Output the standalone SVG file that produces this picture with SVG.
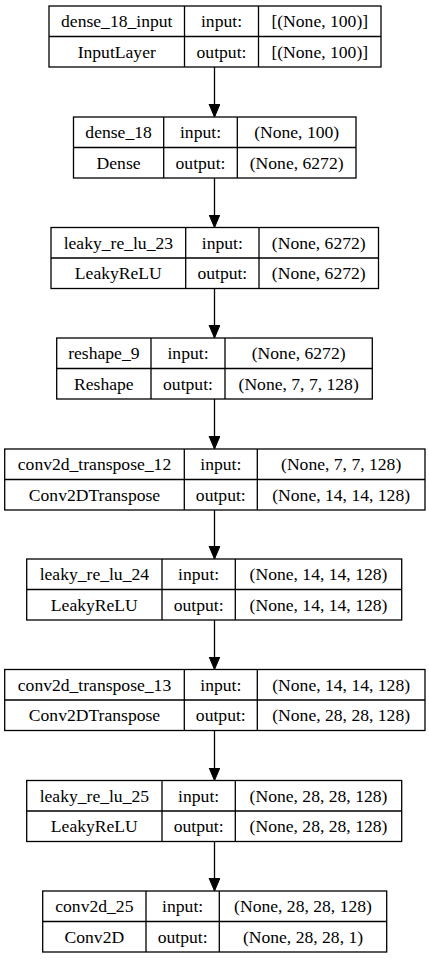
<svg xmlns="http://www.w3.org/2000/svg" width="429" height="959" viewBox="0 0 429 959" font-family="'Liberation Serif', 'Times New Roman', 'DejaVu Serif', serif">
<defs>
<style>
.box{fill:#fff;stroke:#000;stroke-width:1.3}
.ln{stroke:#000;stroke-width:1.3;fill:none}
text{font-family:'Liberation Serif','Times New Roman','DejaVu Serif',serif;font-size:17.6px;fill:#000;text-anchor:middle}
</style>
<marker id="ah" markerUnits="userSpaceOnUse" markerWidth="14" markerHeight="12" refX="13" refY="5.5" orient="auto">
<path d="M0,0 L13,5.5 L0,11 z" fill="#000" stroke="#000" stroke-width="1"/>
</marker>
</defs>
<rect width="429" height="959" fill="#fff"/>
<g id="connectors">
<line class="ln" x1="214.5" y1="67" x2="214.5" y2="117" marker-end="url(#ah)"/>
<line class="ln" x1="214.5" y1="178" x2="214.5" y2="227.5" marker-end="url(#ah)"/>
<line class="ln" x1="214.5" y1="288.5" x2="214.5" y2="338" marker-end="url(#ah)"/>
<line class="ln" x1="214.5" y1="399" x2="214.5" y2="449" marker-end="url(#ah)"/>
<line class="ln" x1="214.5" y1="510" x2="214.5" y2="559" marker-end="url(#ah)"/>
<line class="ln" x1="214.5" y1="620" x2="214.5" y2="669.5" marker-end="url(#ah)"/>
<line class="ln" x1="214.5" y1="730.5" x2="214.5" y2="780.5" marker-end="url(#ah)"/>
<line class="ln" x1="214.5" y1="841.5" x2="214.5" y2="891" marker-end="url(#ah)"/>
</g>
<g id="n1">
<rect class="box" x="49" y="6" width="332" height="61"/>
<path class="ln" d="M49,36.5H381M184.5,6V67M258.5,6V67"/>
<text x="116.75" y="27">dense_18_input</text><text x="116.75" y="57.5">InputLayer</text>
<text x="221.5" y="27">input:</text><text x="221.5" y="57.5">output:</text>
<text x="319.75" y="27">[(None, 100)]</text><text x="319.75" y="57.5">[(None, 100)]</text>
</g>
<g id="n2">
<rect class="box" x="73.5" y="117" width="282.5" height="61"/>
<path class="ln" d="M73.5,147.5H356M163.7,117V178M237.3,117V178"/>
<text x="118.6" y="138">dense_18</text><text x="118.6" y="168.5">Dense</text>
<text x="200.5" y="138">input:</text><text x="200.5" y="168.5">output:</text>
<text x="296.65" y="138">(None, 100)</text><text x="296.65" y="168.5">(None, 6272)</text>
</g>
<g id="n3">
<rect class="box" x="51" y="227.5" width="327.5" height="61"/>
<path class="ln" d="M51,258H378.5M185.7,227.5V288.5M259,227.5V288.5"/>
<text x="118.35" y="248.5">leaky_re_lu_23</text><text x="118.35" y="279">LeakyReLU</text>
<text x="222.35" y="248.5">input:</text><text x="222.35" y="279">output:</text>
<text x="318.75" y="248.5">(None, 6272)</text><text x="318.75" y="279">(None, 6272)</text>
</g>
<g id="n4">
<rect class="box" x="56.7" y="338" width="315.6" height="61"/>
<path class="ln" d="M56.7,368.5H372.3M151,338V399M225,338V399"/>
<text x="103.85" y="359">reshape_9</text><text x="103.85" y="389.5">Reshape</text>
<text x="188" y="359">input:</text><text x="188" y="389.5">output:</text>
<text x="298.65" y="359">(None, 6272)</text><text x="298.65" y="389.5">(None, 7, 7, 128)</text>
</g>
<g id="n5">
<rect class="box" x="4.7" y="449" width="420.3" height="61"/>
<path class="ln" d="M4.7,479.5H425M184.3,449V510M257.3,449V510"/>
<text x="94.5" y="470">conv2d_transpose_12</text><text x="94.5" y="500.5">Conv2DTranspose</text>
<text x="220.8" y="470">input:</text><text x="220.8" y="500.5">output:</text>
<text x="341.15" y="470">(None, 7, 7, 128)</text><text x="341.15" y="500.5">(None, 14, 14, 128)</text>
</g>
<g id="n6">
<rect class="box" x="26.7" y="559" width="375" height="61"/>
<path class="ln" d="M26.7,589.5H401.7M162,559V620M235.3,559V620"/>
<text x="94.35" y="580">leaky_re_lu_24</text><text x="94.35" y="610.5">LeakyReLU</text>
<text x="198.65" y="580">input:</text><text x="198.65" y="610.5">output:</text>
<text x="318.5" y="580">(None, 14, 14, 128)</text><text x="318.5" y="610.5">(None, 14, 14, 128)</text>
</g>
<g id="n7">
<rect class="box" x="4.7" y="669.5" width="420.3" height="61"/>
<path class="ln" d="M4.7,700H425M184.3,669.5V730.5M257.3,669.5V730.5"/>
<text x="94.5" y="690.5">conv2d_transpose_13</text><text x="94.5" y="721">Conv2DTranspose</text>
<text x="220.8" y="690.5">input:</text><text x="220.8" y="721">output:</text>
<text x="341.15" y="690.5">(None, 14, 14, 128)</text><text x="341.15" y="721">(None, 28, 28, 128)</text>
</g>
<g id="n8">
<rect class="box" x="26.7" y="780.5" width="375" height="61"/>
<path class="ln" d="M26.7,811H401.7M162,780.5V841.5M235.3,780.5V841.5"/>
<text x="94.35" y="801.5">leaky_re_lu_25</text><text x="94.35" y="832">LeakyReLU</text>
<text x="198.65" y="801.5">input:</text><text x="198.65" y="832">output:</text>
<text x="318.5" y="801.5">(None, 28, 28, 128)</text><text x="318.5" y="832">(None, 28, 28, 128)</text>
</g>
<g id="n9">
<rect class="box" x="42.7" y="891" width="344" height="61"/>
<path class="ln" d="M42.7,921.5H386.7M146,891V952M219.3,891V952"/>
<text x="94.35" y="912">conv2d_25</text><text x="94.35" y="942.5">Conv2D</text>
<text x="182.65" y="912">input:</text><text x="182.65" y="942.5">output:</text>
<text x="303" y="912">(None, 28, 28, 128)</text><text x="303" y="942.5">(None, 28, 28, 1)</text>
</g>
</svg>
